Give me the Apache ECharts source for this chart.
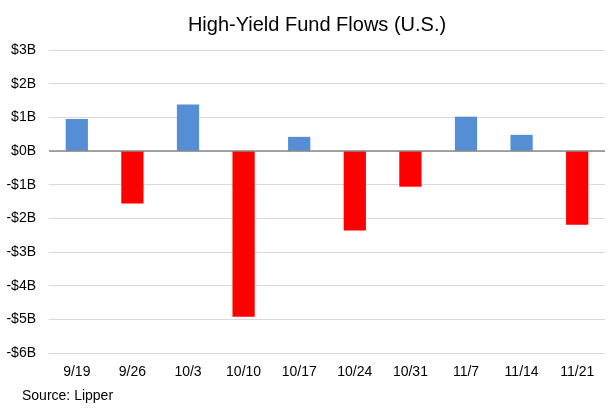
<!DOCTYPE html>
<html><head><meta charset="utf-8">
<script src="https://cdn.jsdelivr.net/npm/echarts@6/dist/echarts.min.js"></script>
<style>html,body{margin:0;padding:0;background:#fff}#c{width:616px;height:414px}</style>
</head><body><div id="c"></div>
<script>
var categories = ['9/19','9/26','10/3','10/10','10/17','10/24','10/31','11/7','11/14','11/21'];
var flows = [0.95, -1.56, 1.38, -4.92, 0.42, -2.36, -1.06, 1.02, 0.48, -2.19];
var yTicks = [-6, -5, -4, -3, -2, -1, 0, 1, 2, 3];
var FONT = '"Liberation Sans Narrow", "Arial Narrow", "Liberation Sans", sans-serif';
var chart = echarts.init(document.getElementById('c'));
chart.setOption({
  animation: false,
  graphic: [
    {type: 'text', x: 317, y: 15,
      style: {text: 'High-Yield Fund Flows (U.S.)', font: '20px ' + FONT, fill: '#000', textAlign: 'center'}},
    {type: 'text', left: 22, top: 389,
      style: {text: 'Source: Lipper', font: '14px ' + FONT, fill: '#000'}}],
  grid: {left: 49, right: 11, top: 50, bottom: 61},
  xAxis: {
    type: 'category', data: categories,
    axisLine: {show: false}, axisTick: {show: false},
    axisLabel: {fontFamily: FONT, fontSize: 14, color: '#000', margin: 12}
  },
  yAxis: {
    type: 'value', min: yTicks[0], max: yTicks[yTicks.length - 1], interval: 1,
    axisLine: {show: false}, axisTick: {show: false},
    splitLine: {lineStyle: {color: '#d9d9d9', width: 1}},
    axisLabel: {fontFamily: FONT, fontSize: 14, color: '#000', margin: 13,
      formatter: function (v) { return (v < 0 ? '-$' : '$') + Math.abs(v) + 'B'; }}
  },
  series: [{
    type: 'bar', barWidth: '40%',
    data: flows.map(function (v) {
      return {value: v, itemStyle: {color: v >= 0 ? '#558ed5' : '#ff0000'}};
    }),
    markLine: {
      silent: true, symbol: 'none', label: {show: false},
      lineStyle: {color: '#888', width: 1.5, type: 'solid'},
      data: [{yAxis: 0}]
    }
  }]
});
</script></body></html>
